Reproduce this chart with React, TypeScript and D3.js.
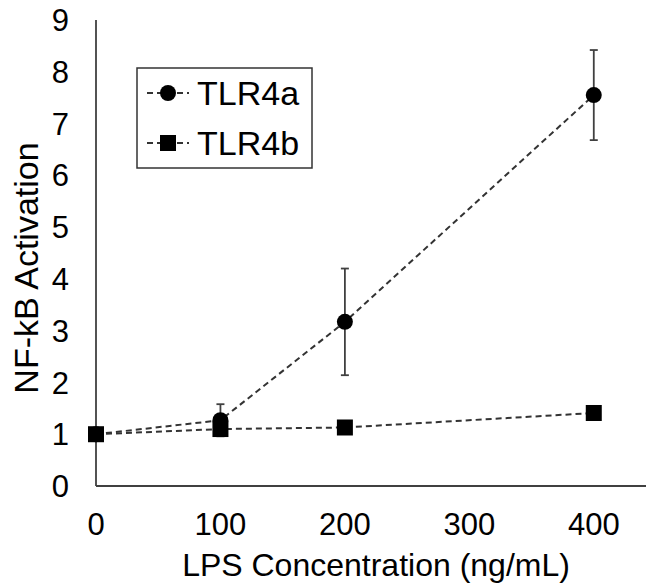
import * as d3 from "d3";
import { useEffect, useRef } from "react";

// data
const concentrations = [0, 100, 200, 400];
const tlr4aValues = [1.0, 1.27, 3.17, 7.55];
const tlr4aErrors = [0, 0.31, 1.03, 0.87];
const tlr4bValues = [1.0, 1.1, 1.13, 1.41];
const xTicks = [0, 100, 200, 300, 400];
const yTicks = [0, 1, 2, 3, 4, 5, 6, 7, 8, 9];
const seriesNames = ["TLR4a", "TLR4b"];

const App = () => {
  const svgRef = useRef<SVGSVGElement>(null);

  useEffect(() => {
    drawChart();
  }, []);

  const drawChart = () => {
    const width = 647;
    const height = 588;
    const font = "'Liberation Sans', Arial, sans-serif";

    const svg = d3.select(svgRef.current);
    svg.selectAll("*").remove();
    svg.attr("width", width).attr("height", height).style("background-color", "white");

    // scales
    const xScale = d3.scaleLinear().domain([0, 450]).range([96, 656]);
    const yScale = d3.scaleLinear().domain([0, 9]).range([486, 20]);

    // axis lines (no tick marks in the original)
    svg
      .append("line")
      .attr("x1", xScale(0))
      .attr("x2", 646)
      .attr("y1", yScale(0))
      .attr("y2", yScale(0))
      .attr("stroke", "#404040")
      .attr("stroke-width", 1.8);
    svg
      .append("line")
      .attr("x1", xScale(0))
      .attr("x2", xScale(0))
      .attr("y1", yScale(0))
      .attr("y2", yScale(9))
      .attr("stroke", "#404040")
      .attr("stroke-width", 1.8);

    // tick labels
    svg
      .selectAll(".xtick")
      .data(xTicks)
      .enter()
      .append("text")
      .attr("class", "xtick")
      .attr("x", (d) => xScale(d))
      .attr("y", 535)
      .attr("text-anchor", "middle")
      .style("font-family", font)
      .style("font-size", "31px")
      .text((d) => d);

    svg
      .selectAll(".ytick")
      .data(yTicks)
      .enter()
      .append("text")
      .attr("class", "ytick")
      .attr("x", 69)
      .attr("y", (d) => yScale(d))
      .attr("dy", "0.36em")
      .attr("text-anchor", "end")
      .style("font-family", font)
      .style("font-size", "31px")
      .text((d) => d);

    // axis titles
    svg
      .append("text")
      .attr("x", 376)
      .attr("y", 576)
      .attr("text-anchor", "middle")
      .style("font-family", font)
      .style("font-size", "32px")
      .text("LPS Concentration (ng/mL)");

    svg
      .append("text")
      .attr("transform", `translate(38,268) rotate(-90)`)
      .attr("text-anchor", "middle")
      .style("font-family", font)
      .style("font-size", "34px")
      .text("NF-kB Activation");

    const line = d3
      .line<number>()
      .x((d, i) => xScale(concentrations[i]))
      .y((d) => yScale(d));

    // dashed connecting lines
    [tlr4aValues, tlr4bValues].forEach((vals) => {
      svg
        .append("path")
        .attr("d", line(vals))
        .attr("fill", "none")
        .attr("stroke", "#333")
        .attr("stroke-width", 2)
        .attr("stroke-dasharray", "6,4");
    });

    // error bars for TLR4a
    const errData = concentrations
      .map((c, i) => ({ c, v: tlr4aValues[i], e: tlr4aErrors[i] }))
      .filter((d) => d.e > 0);
    const err = svg.append("g").attr("stroke", "#404040").attr("stroke-width", 1.8);
    errData.forEach((d) => {
      err
        .append("line")
        .attr("x1", xScale(d.c))
        .attr("x2", xScale(d.c))
        .attr("y1", yScale(d.v - d.e))
        .attr("y2", yScale(d.v + d.e));
      [d.v - d.e, d.v + d.e].forEach((y) => {
        err
          .append("line")
          .attr("x1", xScale(d.c) - 4)
          .attr("x2", xScale(d.c) + 4)
          .attr("y1", yScale(y))
          .attr("y2", yScale(y));
      });
    });

    // markers: circles for TLR4a, squares for TLR4b on top
    svg
      .selectAll(".circ")
      .data(tlr4aValues)
      .enter()
      .append("circle")
      .attr("class", "circ")
      .attr("cx", (d, i) => xScale(concentrations[i]))
      .attr("cy", (d) => yScale(d))
      .attr("r", 8)
      .attr("fill", "#000");

    svg
      .selectAll(".sq")
      .data(tlr4bValues)
      .enter()
      .append("rect")
      .attr("class", "sq")
      .attr("x", (d, i) => xScale(concentrations[i]) - 8)
      .attr("y", (d) => yScale(d) - 8)
      .attr("width", 16)
      .attr("height", 16)
      .attr("fill", "#000");

    // legend
    const legend = svg.append("g");
    legend
      .append("rect")
      .attr("x", 137)
      .attr("y", 68)
      .attr("width", 175)
      .attr("height", 100)
      .attr("fill", "white")
      .attr("stroke", "#333")
      .attr("stroke-width", 1.5);

    seriesNames.forEach((name, i) => {
      const cy = 93 + i * 50;
      legend
        .append("line")
        .attr("x1", 147)
        .attr("x2", 189)
        .attr("y1", cy)
        .attr("y2", cy)
        .attr("stroke", "#333")
        .attr("stroke-width", 2)
        .attr("stroke-dasharray", "6,4");
      if (i === 0) {
        legend.append("circle").attr("cx", 168).attr("cy", cy).attr("r", 8).attr("fill", "#000");
      } else {
        legend
          .append("rect")
          .attr("x", 160)
          .attr("y", cy - 8)
          .attr("width", 16)
          .attr("height", 16)
          .attr("fill", "#000");
      }
      legend
        .append("text")
        .attr("x", 197)
        .attr("y", cy)
        .attr("dy", "0.36em")
        .style("font-family", font)
        .style("font-size", "34px")
        .text(name);
    });
  };

  return <svg ref={svgRef} style={{ position: "absolute", left: 0, top: 0 }} />;
};

export default App;
